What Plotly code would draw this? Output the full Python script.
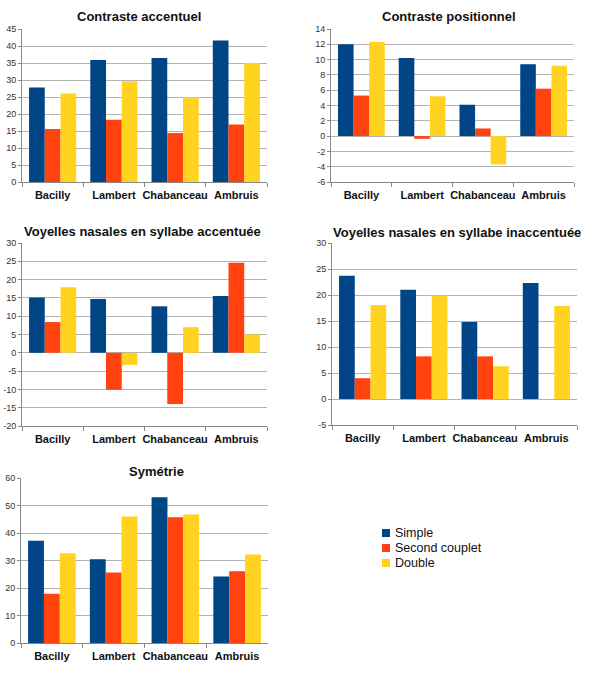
import plotly.graph_objects as go
from plotly.subplots import make_subplots

categories = ["Bacilly", "Lambert", "Chabanceau", "Ambruis"]
series_names = ["Simple", "Second couplet", "Double"]
colors = ["#004586", "#ff420e", "#ffd320"]

titles = ["Contraste accentuel", "Contraste positionnel",
          "Voyelles nasales en syllabe accentuée",
          "Voyelles nasales en syllabe inaccentuée", "Symétrie"]

accentuel_simple = [27.8, 35.9, 36.5, 41.6]
accentuel_second = [15.6, 18.3, 14.4, 16.9]
accentuel_double = [26.0, 29.6, 24.9, 35.0]

positionnel_simple = [12.0, 10.2, 4.1, 9.4]
positionnel_second = [5.3, -0.35, 1.0, 6.2]
positionnel_double = [12.3, 5.2, -3.7, 9.2]

nas_acc_simple = [15.1, 14.7, 12.7, 15.5]
nas_acc_second = [8.4, -10.1, -14.0, 24.6]
nas_acc_double = [17.9, -3.3, 7.0, 5.0]

nas_inacc_simple = [23.7, 21.0, 14.8, 22.3]
nas_inacc_second = [4.0, 8.2, 8.2, None]
nas_inacc_double = [18.1, 19.9, 6.3, 17.9]

symetrie_simple = [37.2, 30.5, 53.0, 24.2]
symetrie_second = [17.9, 25.6, 45.7, 26.1]
symetrie_double = [32.6, 46.0, 46.7, 32.2]

datasets = [
    (accentuel_simple, accentuel_second, accentuel_double),
    (positionnel_simple, positionnel_second, positionnel_double),
    (nas_acc_simple, nas_acc_second, nas_acc_double),
    (nas_inacc_simple, nas_inacc_second, nas_inacc_double),
    (symetrie_simple, symetrie_second, symetrie_double),
]
y_ranges = [(0, 45, 5), (-6, 14, 2), (-20, 30, 5), (-5, 30, 5), (0, 60, 10)]

W, H = 600, 680
# pixel boxes (left, right, top, bottom)
boxes = [(22, 267, 29, 182), (331, 574, 29, 182), (22, 267, 243, 426),
         (332, 577, 243, 425), (21, 268, 478, 643)]
title_pos = [(139, 16), (449, 16), (142, 231), (457, 232), (156, 471)]

fig = make_subplots(rows=3, cols=2)
cells = [(1, 1), (1, 2), (2, 1), (2, 2), (3, 1)]

FONT = "Liberation Sans, Arial, sans-serif"
for i, (data, (r, c)) in enumerate(zip(datasets, cells)):
    for s, (vals, name, col) in enumerate(zip(data, series_names, colors)):
        fig.add_trace(go.Bar(x=categories, y=vals, name=name, marker_color=col,
                             marker_line_width=0, showlegend=False,
                             legendgroup=name), row=r, col=c)

layout_upd = {}
for i, (l, rr, t, b) in enumerate(boxes):
    k = "" if i == 0 else str(i + 1)
    lo, hi, dt = y_ranges[i]
    tv = list(range(lo, hi + 1, dt))
    layout_upd["xaxis" + k] = dict(
        domain=[l / W, rr / W], type="category", categoryarray=categories,
        range=[-0.5, 3.5], tickson="boundaries", ticks="outside", ticklen=4,
        tickcolor="#888", showline=True, linecolor="#888", linewidth=1,
        showgrid=False, tickangle=0, automargin=False, ticklabelstandoff=3,
        tickfont=dict(family=FONT, size=11, color="#111", weight="bold"),
        anchor="y" + k)
    layout_upd["yaxis" + k] = dict(
        domain=[1 - b / H, 1 - t / H], range=[lo, hi],
        tickvals=tv, ticktext=[str(v) for v in tv],
        ticks="outside", ticklen=3, tickcolor="#888", showline=True,
        linecolor="#888", linewidth=1, showgrid=True, gridcolor="#b3b3b3",
        gridwidth=1, zeroline=True, zerolinecolor="#b3b3b3", zerolinewidth=1,
        automargin=False,
        tickfont=dict(family=FONT, size=9, color="#333"), anchor="x" + k)

fig.update_layout(**layout_upd)

for (tx, ty), txt in zip(title_pos, titles):
    fig.add_annotation(text="<b>" + txt + "</b>", x=tx / W, y=1 - ty / H,
                       xref="paper", yref="paper", showarrow=False,
                       xanchor="center", yanchor="middle",
                       font=dict(family=FONT, size=13, color="#111"))

# legend (squares + labels)
legend_x, legend_y0, legend_dy = 382, 533, 15
for j, (name, col) in enumerate(zip(series_names, colors)):
    yc = legend_y0 + j * legend_dy
    fig.add_shape(type="rect", xref="paper", yref="paper",
                  x0=legend_x / W, x1=(legend_x + 8) / W,
                  y0=1 - (yc + 4) / H, y1=1 - (yc - 4) / H,
                  fillcolor=col, line=dict(width=0))
    fig.add_annotation(text=name, x=(legend_x + 11) / W, y=1 - yc / H,
                       xref="paper", yref="paper", showarrow=False,
                       xanchor="left", yanchor="middle",
                       font=dict(family=FONT, size=12.5, color="#111"))

fig.update_layout(
    width=W, height=H, margin=dict(l=0, r=0, t=0, b=0),
    paper_bgcolor="white", plot_bgcolor="white",
    barmode="group", bargap=0.23, bargroupgap=0,
    showlegend=False,
)

fig.write_html("out.html")
